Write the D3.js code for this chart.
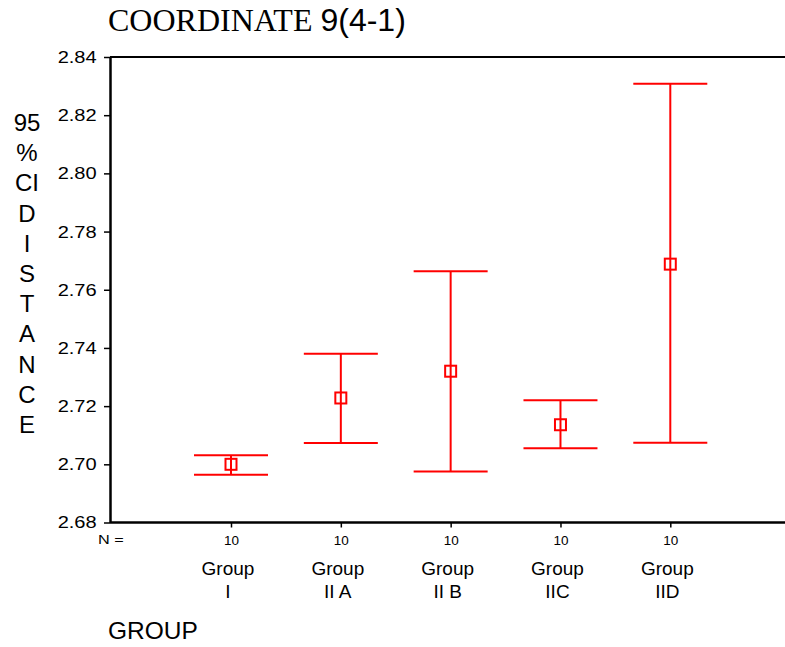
<!DOCTYPE html>
<html>
<head>
<meta charset="utf-8">
<script src="https://cdn.jsdelivr.net/npm/d3@7"></script>
<style>
  body { margin: 0; background: #fff; }
  text { font-family: Arial, "Liberation Sans", sans-serif; }
</style>
</head>
<body>
<div id="chart"></div>
<script>
(function () {

// Data
const groups = ["Group I", "Group II A", "Group II B", "Group IIC", "Group IID"];
const groupSubLabels = ["I", "II A", "II B", "IIC", "IID"];
const nValues = [10, 10, 10, 10, 10];
const means = [2.7000, 2.7228, 2.7320, 2.7136, 2.7688];
const lowerCI = [2.6964, 2.7073, 2.6975, 2.7055, 2.7074];
const upperCI = [2.7031, 2.7380, 2.7664, 2.7220, 2.8308];
const yTicks = [2.68, 2.70, 2.72, 2.74, 2.76, 2.78, 2.80, 2.82, 2.84];
const yLabelLines = ["95", "%", "CI", "D", "I", "S", "T", "A", "N", "C", "E"];

const width = 785, height = 647;
const plotLeft = 110, plotTop = 57, plotBottom = 522.5;
const red = "#ff0000";

const svg = d3.select("#chart").append("svg")
    .attr("width", width)
    .attr("height", height);

// Scales
const x = d3.scalePoint()
    .domain(groups)
    .range([231, 670.3]);

const y = d3.scaleLinear()
    .domain([2.68, 2.84])
    .range([plotBottom, plotTop]);

// Title
const title = svg.append("text")
    .attr("x", 108)
    .attr("y", 31)
    .style("font-size", "32px");
title.append("tspan")
    .style("font-family", "'Liberation Serif', 'Times New Roman', serif")
    .text("COORDINATE ");
title.append("tspan")
    .style("font-family", "Arial, 'Liberation Sans', sans-serif")
    .text("9(4-1)");

// Frame lines (top and bottom run off the right edge)
svg.append("line")
    .attr("x1", plotLeft).attr("x2", width + 10)
    .attr("y1", plotTop).attr("y2", plotTop)
    .attr("stroke", "#000").attr("stroke-width", 2);

// Y axis
const yAxis = svg.append("g")
    .attr("transform", `translate(${plotLeft},0)`)
    .call(d3.axisLeft(y).tickValues(yTicks).tickFormat(d3.format(".2f")).tickSize(6).tickSizeOuter(0));
yAxis.select(".domain").attr("stroke-width", 2.5);
yAxis.selectAll(".tick line").attr("stroke-width", 1.5);
yAxis.selectAll(".tick text")
    .attr("x", -11.3)
    .attr("transform", "scale(1.18,1)")
    .style("font-size", "17px")
    .style("font-family", "Arial, 'Liberation Sans', sans-serif")
    .attr("fill", "#000");

// X axis (bottom line with ticks at each group)
const xAxis = svg.append("g")
    .attr("transform", `translate(0,${plotBottom})`)
    .call(d3.axisBottom(x).tickSize(5).tickSizeOuter(0).tickFormat((d, i) => nValues[i]));
xAxis.select(".domain")
    .attr("d", `M${plotLeft},0H${width + 10}`)
    .attr("stroke-width", 2.5);
xAxis.selectAll(".tick line").attr("stroke-width", 1.5);
xAxis.selectAll(".tick text")
    .attr("y", 22.5)
    .attr("dy", null)
    .style("font-size", "13.5px")
    .attr("fill", "#000");

svg.append("text")
    .attr("x", 98)
    .attr("y", 544)
    .attr("transform", "translate(98,0) scale(1.3,1) translate(-98,0)")
    .style("font-size", "12.5px")
    .text("N =");

// Group labels
const catLabels = svg.append("g").selectAll("text")
    .data(groups)
    .join("text")
    .attr("text-anchor", "middle")
    .style("font-size", "19px");
catLabels.append("tspan")
    .attr("x", d => x(d) - 3)
    .attr("y", 575)
    .text("Group");
catLabels.append("tspan")
    .attr("x", d => x(d) - 3)
    .attr("y", 598)
    .text((d, i) => groupSubLabels[i]);

// X axis title
svg.append("text")
    .attr("x", 108)
    .attr("y", 639)
    .style("font-size", "24.5px")
    .text("GROUP");

// Y axis title, stacked letters
svg.append("g").selectAll("text")
    .data(yLabelLines)
    .join("text")
    .attr("x", 27)
    .attr("y", (d, i) => 131 + i * 30.2)
    .attr("text-anchor", "middle")
    .style("font-size", "24px")
    .text(d => d);

// Error bars
const bars = svg.append("g").selectAll("g")
    .data(groups)
    .join("g");

bars.append("line")
    .attr("x1", d => x(d)).attr("x2", d => x(d))
    .attr("y1", (d, i) => y(upperCI[i]))
    .attr("y2", (d, i) => y(lowerCI[i]))
    .attr("stroke", red).attr("stroke-width", 2);

bars.append("line")
    .attr("x1", d => x(d) - 37).attr("x2", d => x(d) + 37)
    .attr("y1", (d, i) => y(upperCI[i]))
    .attr("y2", (d, i) => y(upperCI[i]))
    .attr("stroke", red).attr("stroke-width", 2);

bars.append("line")
    .attr("x1", d => x(d) - 37).attr("x2", d => x(d) + 37)
    .attr("y1", (d, i) => y(lowerCI[i]))
    .attr("y2", (d, i) => y(lowerCI[i]))
    .attr("stroke", red).attr("stroke-width", 2);

bars.append("rect")
    .attr("x", d => x(d) - 5.5)
    .attr("y", (d, i) => y(means[i]) - 5.5)
    .attr("width", 11)
    .attr("height", 11)
    .attr("fill", "none")
    .attr("stroke", red)
    .attr("stroke-width", 2);

})();
</script>
</body>
</html>
